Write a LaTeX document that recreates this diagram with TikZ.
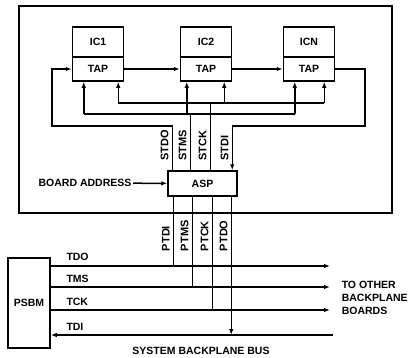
\documentclass[tikz,border=0pt]{standalone}
\usepackage{fontspec}
\setmainfont{Liberation Sans}
\usetikzlibrary{arrows.meta, calc, positioning}

\begin{document}
\begin{tikzpicture}[
    x=1pt, y=-1pt,
    >={Latex[length=6pt,width=4.5pt]}, % Set default arrow tip style
    line width=1.5pt,
    every node/.style={font=\bfseries\fontsize{10.5}{12}\selectfont, inner sep=1pt},
    chip/.style={draw, minimum width=51pt, minimum height=30pt, inner sep=0pt}, % IC part
    tapbox/.style={draw, minimum width=51pt, minimum height=24pt, inner sep=0pt}, % TAP part
    sig/.style={rotate=90, anchor=south west, inner sep=1pt,
        font=\bfseries\fontsize{11}{12}\selectfont} % vertical signal names
]
\useasboundingbox (0,0) rectangle (411,357);

% Board outline
\draw (19,6) rectangle (392,213);

% ICs and their TAPs
\node[chip] (ic1) at (98,42) {IC1};
\node[tapbox, below=-1.5pt of ic1] (tap1) {TAP};
\node[chip] (ic2) at (206,42) {IC2};
\node[tapbox, below=-1.5pt of ic2] (tap2) {TAP};
\node[chip] (icn) at (309,42) {ICN};
\node[tapbox, below=-1.5pt of icn] (tap3) {TAP};

% Scan chain through the TAPs
\draw[->] (tap1) -- (tap2);
\draw[->] (tap2) -- (tap3);

% Ports under the TAPs
\coordinate (p1a) at ($(tap1.south west)+(12,0)$);
\coordinate (p1b) at ($(tap1.south east)+(-6,0)$);
\coordinate (p2a) at ($(tap2.south west)+(7,0)$);
\coordinate (p2b) at ($(tap2.south east)+(-8,0)$);
\coordinate (p3a) at ($(tap3.south west)+(12,0)$);
\coordinate (p3b) at ($(tap3.south east)+(-11,0)$);

% Bus levels
\coordinate (tckbus) at (0,103);
\coordinate (tmsbus) at (0,114);
\coordinate (loop) at (0,126);
\coordinate (lft) at (52,0);
\coordinate (rgt) at (365,0);

% TMS bus
\draw (p1a |- tmsbus) -- (p3a |- tmsbus);
\draw[->] (p1a |- tmsbus) -- (p1a);
\draw[->] (p2a |- tmsbus) -- (p2a);
\draw[->] (p3a |- tmsbus) -- (p3a);

% TCK bus
\draw (p1b |- tckbus) -- (p3b |- tckbus);
\draw[->] (p1b |- tckbus) -- (p1b);
\draw[->] (p2b |- tckbus) -- (p2b);
\draw[->] (p3b |- tckbus) -- (p3b);

% ASP and board address
\node[draw, minimum width=69pt, minimum height=25pt] (asp) at (202.5,183.5) {ASP};
\node (addr) at (85,183) {BOARD ADDRESS};
\draw[->] (addr) -- (asp);

% Secondary port
\coordinate (stdo) at ($(asp.north west)+(5,0)$);
\coordinate (stms) at ($(asp.north west)+(23,0)$);
\coordinate (stck) at ($(asp.north west)+(43,0)$);
\coordinate (stdi) at ($(asp.north west)+(65,0)$);

\draw[->] (stdo) |- (lft |- loop) |- (tap1.west);
\draw (stms) -- (stms |- tmsbus);
\draw (stck) -- (stck |- tckbus);
\draw[->] (tap3.east) -| (rgt |- loop) -| (stdi);

\node[sig] at ($(stdo)+(-2,-8)$) {STDO};
\node[sig] at ($(stms)+(-2,-8)$) {STMS};
\node[sig] at ($(stck)+(-2,-8)$) {STCK};
\node[sig] at ($(stdi)+(-2,-8)$) {STDI};

% Primary port
\coordinate (ptdi) at ($(asp.south west)+(6,0)$);
\coordinate (ptms) at ($(asp.south west)+(25,0)$);
\coordinate (ptck) at ($(asp.south west)+(45,0)$);
\coordinate (ptdo) at ($(asp.south west)+(64,0)$);

% PSBM and system backplane bus
\node[draw, minimum width=42pt, minimum height=90pt, inner sep=0pt] (psbm) at (29,303) {PSBM};
\coordinate (tdoend) at (330,266);
\coordinate (tmsend) at (330,287);
\coordinate (tckend) at (330,310);
\coordinate (tdiend) at (333,335);

\draw[->] (psbm.east |- tdoend) -- (tdoend);
\draw[->] (psbm.east |- tmsend) -- (tmsend);
\draw[->] (psbm.east |- tckend) -- (tckend);
\draw[<-] (psbm.east |- tdiend) -- (tdiend);

\node[anchor=base west] at ($(psbm.east |- tdoend)+(14,-6)$) {TDO};
\node[anchor=base west] at ($(psbm.east |- tmsend)+(14,-5)$) {TMS};
\node[anchor=base west] at ($(psbm.east |- tckend)+(14,-5)$) {TCK};
\node[anchor=base west] at ($(psbm.east |- tdiend)+(14,-5)$) {TDI};

\draw (ptdi) -- (ptdi |- tdoend);
\draw (ptms) -- (ptms |- tmsend);
\draw (ptck) -- (ptck |- tckend);
\draw[->] (ptdo) -- (ptdo |- tdiend);

\node[sig] at ($(ptdi)+(-2,56)$) {PTDI};
\node[sig] at ($(ptms)+(-2,56)$) {PTMS};
\node[sig] at ($(ptck)+(-2,56)$) {PTCK};
\node[sig] at ($(ptdo)+(-2,56)$) {PTDO};

\node[anchor=west, align=left, font=\bfseries\fontsize{10.5}{13}\selectfont] at (340,298) {TO OTHER\\BACKPLANE\\BOARDS};
\node at (201,351) {SYSTEM BACKPLANE BUS};

\end{tikzpicture}
\end{document}
